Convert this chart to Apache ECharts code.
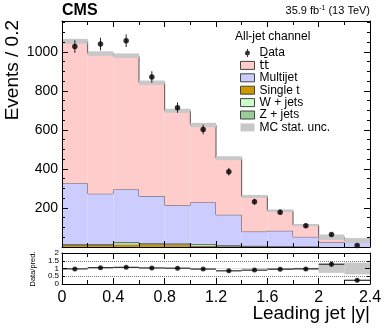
<!DOCTYPE html>
<html lang="en">
<head>
<meta charset="UTF-8">
<title>Leading jet |y|</title>
<style>html,body{margin:0;padding:0;background:#fff;}</style>
</head>
<body>
<div id="main" style="width:390px;height:329px;"></div>
<script src="https://cdn.jsdelivr.net/npm/echarts@6/dist/echarts.min.js"></script>
<script>
// bins of leading jet |y|, width 0.2
var binEdges = [0, 0.2, 0.4, 0.6, 0.8, 1.0, 1.2, 1.4, 1.6, 1.8, 2.0, 2.2, 2.4];
var dataCounts = [1027, 1040, 1057, 871, 714, 602, 386, 232, 178, 109, 64, 8];
var ttbar = [727, 718, 685, 581, 484, 397, 290, 180, 103, 60, 25, 10];
var multijet = [311, 257, 270, 242, 196, 213, 155, 73, 79, 49, 25, 23];
var singleTop = [10, 10, 12, 14, 13, 5, 4, 3, 2, 1, 0, 0];
var wJets = [4, 4, 10, 3, 3, 7, 3, 2, 1, 1, 0, 0];
var zJets = [2, 2, 3, 2, 2, 3, 3, 1, 1, 1, 0, 0];
// relative MC stat. uncertainty per bin
var mcStatUnc = [0.012, 0.012, 0.012, 0.013, 0.015, 0.018, 0.022, 0.03, 0.035, 0.05, 0.28, 0.38];
var mainYTicks = [200, 400, 600, 800, 1000];
var ratioYTicksInt = [0, 1, 2];
var ratioYTicksHalf = [0.5, 1.5];

var FONT = '"Liberation Sans", Arial, sans-serif';
var nBins = dataCounts.length;
var TT = 'tt\u0304';

// stack order, bottom first
var stackDefs = [
    {name: 'Single t', vals: singleTop, color: '#cc9900'},
    {name: 'W + jets', vals: wJets, color: '#ccffcc'},
    {name: 'Z + jets', vals: zJets, color: '#99cc99'},
    {name: 'Multijet', vals: multijet, color: '#ccccff'},
    {name: TT, vals: ttbar, color: '#ffcccc'}
];

var base = dataCounts.map(function () { return 0; });
var stackData = stackDefs.map(function (d) {
    var rows = [];
    for (var i = 0; i < nBins; i++) {
        var lo = base[i], hi = lo + d.vals[i];
        var prevHi = i > 0 ? base[i - 1] + d.vals[i - 1] : hi;
        rows.push([binEdges[i], binEdges[i + 1], lo, hi, prevHi]);
    }
    for (var j = 0; j < nBins; j++) base[j] += d.vals[j];
    return rows;
});
var total = base;

var mainBand = [], dataErr = [], dataPts = [], ratioBand = [], ratioErr = [], ratioPts = [];
for (var i = 0; i < nBins; i++) {
    var x0 = binEdges[i], x1 = binEdges[i + 1], xc = (x0 + x1) / 2;
    var err = Math.sqrt(dataCounts[i]);
    var r = dataCounts[i] / total[i];
    mainBand.push([x0, x1, total[i] * (1 - mcStatUnc[i]), total[i] * (1 + mcStatUnc[i])]);
    dataErr.push([xc, dataCounts[i] - err, dataCounts[i] + err]);
    dataPts.push([xc, dataCounts[i]]);
    ratioBand.push([x0, x1, 1 - mcStatUnc[i], 1 + mcStatUnc[i]]);
    ratioErr.push([x0, x1, xc, r, r - err / total[i], r + err / total[i]]);
    ratioPts.push([xc, r]);
}

function histItem(color) {
    return function (params, api) {
        var a = api.coord([api.value(0), api.value(3)]);
        var b = api.coord([api.value(1), api.value(2)]);
        var p = api.coord([api.value(0), api.value(4)]);
        return {
            type: 'group',
            children: [
                {type: 'rect', shape: {x: a[0], y: a[1], width: b[0] - a[0], height: b[1] - a[1]},
                    style: {fill: color}},
                {type: 'line', shape: {x1: a[0], y1: a[1], x2: b[0], y2: a[1]},
                    style: {stroke: '#555', lineWidth: 1}},
                {type: 'line', shape: {x1: a[0], y1: p[1], x2: a[0], y2: a[1]},
                    style: {stroke: '#555', lineWidth: 1}}
            ]
        };
    };
}

function bandItem(params, api) {
    var a = api.coord([api.value(0), api.value(3)]);
    var b = api.coord([api.value(1), api.value(2)]);
    return {
        type: 'rect',
        shape: {x: a[0], y: a[1], width: b[0] - a[0], height: b[1] - a[1]},
        style: {fill: '#c8c8c8'}
    };
}

function errItem(params, api) {
    var t = api.coord([api.value(0), api.value(2)]);
    var b = api.coord([api.value(0), api.value(1)]);
    return {
        type: 'line',
        shape: {x1: t[0], y1: t[1], x2: b[0], y2: b[1]},
        style: {stroke: '#222', lineWidth: 1}
    };
}

function ratioErrItem(params, api) {
    var l = api.coord([api.value(0), api.value(3)]);
    var rr = api.coord([api.value(1), api.value(3)]);
    var t = api.coord([api.value(2), api.value(5)]);
    var b = api.coord([api.value(2), api.value(4)]);
    return {
        type: 'group',
        children: [
            {type: 'line', shape: {x1: l[0], y1: l[1], x2: rr[0], y2: rr[1]}, style: {stroke: '#000', lineWidth: 1}},
            {type: 'line', shape: {x1: t[0], y1: t[1], x2: b[0], y2: b[1]}, style: {stroke: '#000', lineWidth: 1}}
        ]
    };
}

function xAxisCfg(grid, pos, labels) {
    return {
        type: 'value', gridIndex: grid, position: pos, min: 0, max: 2.4, interval: 0.4, z: 10,
        axisLine: {show: true, onZero: false, lineStyle: {color: '#000', width: 1}},
        axisTick: {show: true, inside: true, length: 6, lineStyle: {color: '#000'}},
        minorTick: {show: true, splitNumber: 2, length: 4, lineStyle: {color: '#000'}},
        splitLine: {show: false},
        axisLabel: {show: labels, fontSize: 16, color: '#000', margin: 6, fontFamily: FONT}
    };
}

function mainYAxis(pos, labels) {
    return {
        type: 'value', gridIndex: 0, position: pos, min: 0, max: 1158, interval: 200, z: 10,
        axisLine: {show: true, onZero: false, lineStyle: {color: '#000'}},
        axisTick: {show: true, inside: true, length: 6, lineStyle: {color: '#000'}},
        minorTick: {show: true, splitNumber: 4, length: 3, lineStyle: {color: '#000'}},
        splitLine: {show: false},
        axisLabel: {
            show: labels, fontSize: 14, color: '#000', margin: 4, showMaxLabel: false,
            formatter: function (v) { return mainYTicks.indexOf(v) >= 0 ? String(v) : ''; }
        }
    };
}

function ratioYAxis(pos, labels) {
    return {
        type: 'value', gridIndex: 1, position: pos, min: 0, max: 2, interval: 1, z: 10,
        axisLine: {show: true, onZero: false, lineStyle: {color: '#000'}},
        axisTick: {show: true, inside: true, length: 5, lineStyle: {color: '#000'}},
        minorTick: {show: true, splitNumber: 2, length: 3, lineStyle: {color: '#000'}},
        splitLine: {show: false},
        axisLabel: {
            show: labels, fontSize: 8, color: '#000', margin: 3,
            customValues: ratioYTicksInt, showMinLabel: true, showMaxLabel: true
        }
    };
}

var series = stackDefs.map(function (d, k) {
    return {
        name: d.name, type: 'custom', xAxisIndex: 0, yAxisIndex: 0, silent: true,
        itemStyle: {color: d.color},
        renderItem: histItem(d.color), encode: {x: [0, 1], y: [2, 3]}, data: stackData[k]
    };
});

series.push(
    {
        name: 'MC stat. unc.', type: 'custom', xAxisIndex: 0, yAxisIndex: 0, silent: true,
        itemStyle: {color: '#c8c8c8'},
        renderItem: bandItem, encode: {x: [0, 1], y: [2, 3]}, data: mainBand
    },
    {
        name: 'Data err', type: 'custom', xAxisIndex: 0, yAxisIndex: 0, silent: true,
        renderItem: errItem, encode: {x: 0, y: [1, 2]}, data: dataErr, z: 5
    },
    {
        name: 'Data', type: 'scatter', xAxisIndex: 0, yAxisIndex: 0, silent: true,
        symbolSize: 5.5, itemStyle: {color: '#000'}, data: dataPts, z: 6
    },
    {
        name: 'Ratio band', type: 'custom', xAxisIndex: 2, yAxisIndex: 2, silent: true,
        renderItem: bandItem, encode: {x: [0, 1], y: [2, 3]}, data: ratioBand
    },
    {
        name: 'Ratio err', type: 'custom', xAxisIndex: 2, yAxisIndex: 2, silent: true,
        renderItem: ratioErrItem, encode: {x: [0, 1], y: [3, 4, 5]}, data: ratioErr, z: 5
    },
    {
        name: 'Ratio', type: 'scatter', xAxisIndex: 2, yAxisIndex: 2, silent: true,
        symbolSize: 5, itemStyle: {color: '#000'}, data: ratioPts, z: 6,
        markLine: {
            silent: true, symbol: 'none', label: {show: false},
            lineStyle: {color: '#777', type: 'dotted', width: 1},
            data: [{yAxis: 0.5}, {yAxis: 1.5}]
        }
    }
);

var myChart = echarts.init(document.getElementById('main'));

var option = {
    animation: false,
    textStyle: {fontFamily: FONT},
    grid: [
        {left: 62, right: 20, top: 21, height: 226},
        {left: 62, right: 20, top: 253, height: 31}
    ],
    xAxis: [
        xAxisCfg(0, 'bottom', false),
        xAxisCfg(0, 'top', false),
        xAxisCfg(1, 'bottom', true),
        xAxisCfg(1, 'top', false)
    ],
    yAxis: [
        mainYAxis('left', true),
        mainYAxis('right', false),
        ratioYAxis('left', true),
        ratioYAxis('right', false),
        {
            // second label row of the ratio axis (0.5, 1.5)
            type: 'value', gridIndex: 1, position: 'left', min: 0, max: 2, z: 10,
            axisLine: {show: false}, axisTick: {show: false}, splitLine: {show: false},
            axisLabel: {fontSize: 8, color: '#000', margin: 3, customValues: ratioYTicksHalf}
        }
    ],
    legend: {
        orient: 'vertical',
        left: 235,
        top: 42,
        itemWidth: 14,
        itemHeight: 8,
        itemGap: 0.4,
        selectedMode: false,
        textStyle: {
            fontSize: 12, lineHeight: 12, color: '#000', fontFamily: FONT,
            rich: {dv: {fontSize: 12, lineHeight: 12, fontFamily: '"DejaVu Sans"'}}
        },
        formatter: function (name) { return name === TT ? '{dv|' + TT + '}' : name; },
        data: [
            {name: 'Data', icon: 'path://M6.5,0h1v8h-1z M7,1.5a2.5,2.5 0 1 1 -0.01,0z', itemStyle: {color: '#000', borderWidth: 0}},
            {name: TT, icon: 'rect', itemStyle: {color: '#ffcccc', borderColor: '#444', borderWidth: 1}},
            {name: 'Multijet', icon: 'rect', itemStyle: {color: '#ccccff', borderColor: '#444', borderWidth: 1}},
            {name: 'Single t', icon: 'rect', itemStyle: {color: '#cc9900', borderColor: '#444', borderWidth: 1}},
            {name: 'W + jets', icon: 'rect', itemStyle: {color: '#ccffcc', borderColor: '#444', borderWidth: 1}},
            {name: 'Z + jets', icon: 'rect', itemStyle: {color: '#99cc99', borderColor: '#444', borderWidth: 1}},
            {name: 'MC stat. unc.', icon: 'rect', itemStyle: {color: '#c8c8c8', borderWidth: 0}}
        ]
    },
    graphic: [
        {type: 'text', left: 62, top: 3, style: {text: 'CMS', font: 'bold 16px ' + FONT, fill: '#000'}},
        {
            type: 'text', right: 20, top: 5,
            style: {
                text: '35.9 fb{sup|-1} (13 TeV)', font: '11px ' + FONT, fill: '#000',
                rich: {sup: {fontSize: 7, verticalAlign: 'top', padding: [0, 0, 5, 0]}}
            }
        },
        {type: 'text', left: 235, top: 31, style: {text: 'All-jet channel', font: '12px ' + FONT, fill: '#000'}},
        {
            type: 'text', x: 3, y: 20, rotation: Math.PI / 2,
            style: {text: 'Events / 0.2', font: '19px ' + FONT, fill: '#000', align: 'right', verticalAlign: 'top'}
        },
        {
            type: 'text', x: 33, y: 269, rotation: Math.PI / 2,
            style: {text: 'Data/pred.', font: '7.5px ' + FONT, fill: '#000', align: 'center', verticalAlign: 'middle'}
        },
        {type: 'text', right: 20, top: 304, style: {text: 'Leading jet |y|', font: '19px ' + FONT, fill: '#000'}}
    ],
    series: series
};

myChart.setOption(option);
</script>
</body>
</html>
